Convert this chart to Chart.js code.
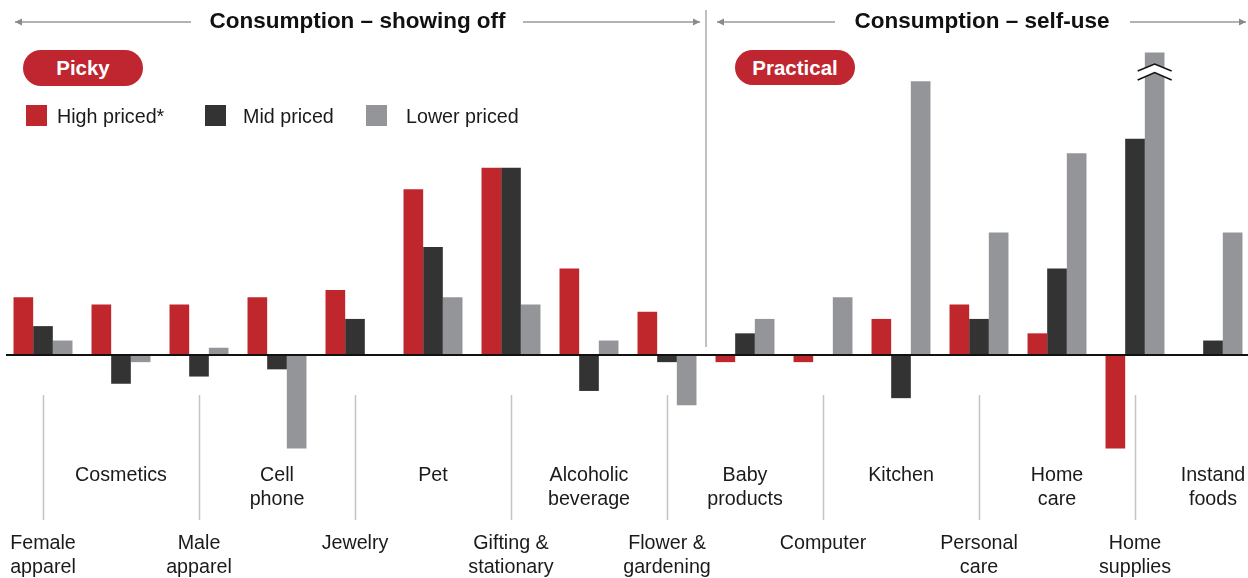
<!DOCTYPE html>
<html>
<head>
<meta charset="utf-8">
<script src="https://cdn.jsdelivr.net/npm/chart.js@4/dist/chart.umd.min.js"></script>
<style>
html,body{margin:0;padding:0;background:#fff;overflow:hidden;width:1248px;height:578px;}
#wrap{position:absolute;left:0;top:0;width:1260px;height:578px;}
#c{position:absolute;left:0;top:0;}
.t{position:absolute;font-family:"Liberation Sans",Arial,sans-serif;color:#1a1a1a;white-space:nowrap;}
.head{font-weight:bold;font-size:22.5px;line-height:26px;color:#111;transform:translateX(-50%);}
.pill{position:absolute;background:#BF262F;border-radius:18px;color:#fff;font-weight:bold;font-size:20.5px;text-align:center;font-family:"Liberation Sans",Arial,sans-serif;}
.sq{position:absolute;width:21px;height:21px;}
.leg{font-size:19.7px;line-height:22px;}
.lab{font-size:19.7px;line-height:24px;text-align:center;transform:translateX(-50%);}
</style>
</head>
<body>
<div id="wrap"><canvas id="c" width="1260" height="578"></canvas></div>
<script>
// ---- data ----
const categories = [
  ['Female','apparel'], ['Cosmetics'], ['Male','apparel'], ['Cell','phone'],
  ['Jewelry'], ['Pet'], ['Gifting &','stationary'], ['Alcoholic','beverage'],
  ['Flower &','gardening'], ['Baby','products'], ['Computer'], ['Kitchen'],
  ['Personal','care'], ['Home','care'], ['Home','supplies'], ['Instand','foods']
];
const seriesNames = ['High priced*', 'Mid priced', 'Lower priced'];
const highPriced   = [8, 7, 7, 8, 9, 23, 26, 12, 6, -1, -1, 5, 7, 3, -13, 0.1];
const midPriced    = [4, -4, -3, -2, 5, 15, 26, -5, -1, 3, 0.1, -6, 5, 12, 30, 2];
const lowerPriced  = [2, -1, 1, -13, 0.1, 8, 7, 2, -7, 5, 8, 38, 17, 28, 42, 17];
const sectionTitles = ['Consumption \u2013 showing off', 'Consumption \u2013 self-use'];
const sectionTags = ['Picky', 'Practical'];

const colors = ['#C0272D', '#333333', '#939598'];

function arrow(ctx, x1, x2, y){
  // line from x1 to tip x2
  ctx.strokeStyle = '#9a9a9a'; ctx.fillStyle = '#8a8a8a'; ctx.lineWidth = 1.5;
  ctx.beginPath(); ctx.moveTo(x1, y); ctx.lineTo(x2, y); ctx.stroke();
  const d = x2 > x1 ? 1 : -1;
  ctx.beginPath(); ctx.moveTo(x2, y); ctx.lineTo(x2 - d*7, y - 3.5); ctx.lineTo(x2 - d*7, y + 3.5); ctx.closePath(); ctx.fill();
}

const deco = {
  id: 'deco',
  afterDatasetsDraw(chart){
    const ctx = chart.ctx, xs = chart.scales.x, ys = chart.scales.y;
    const y0 = ys.getPixelForValue(0);
    ctx.save();
    // baseline
    ctx.strokeStyle = '#111'; ctx.lineWidth = 2;
    ctx.beginPath(); ctx.moveTo(6, y0); ctx.lineTo(1248, y0); ctx.stroke();
    // section divider
    const xd = (xs.getPixelForValue(8) + xs.getPixelForValue(9)) / 2;
    ctx.strokeStyle = '#ababab'; ctx.lineWidth = 1.5;
    ctx.beginPath(); ctx.moveTo(xd, 10); ctx.lineTo(xd, 347); ctx.stroke();
    // label separators
    ctx.strokeStyle = '#c4c4c4'; ctx.lineWidth = 1.5;
    ctx.beginPath();
    for (let i = 0; i < categories.length; i += 2){
      const px = Math.round(xs.getPixelForValue(i)) + 0.5;
      ctx.moveTo(px, 395); ctx.lineTo(px, 520);
    }
    ctx.stroke();
    // header arrows
    arrow(ctx, 191, 15, 22);
    arrow(ctx, 523, 700, 22);
    arrow(ctx, 835, 717, 22);
    arrow(ctx, 1130, 1246, 22);
    // axis-break mark on the truncated bar
    const bar = chart.getDatasetMeta(2).data[14];
    const cx = bar.x, h = 17;
    ctx.fillStyle = '#fff';
    ctx.beginPath();
    ctx.moveTo(cx - h, 71); ctx.lineTo(cx, 64); ctx.lineTo(cx + h, 71);
    ctx.lineTo(cx + h, 80); ctx.lineTo(cx, 72.5); ctx.lineTo(cx - h, 80); ctx.closePath(); ctx.fill();
    ctx.strokeStyle = '#111'; ctx.lineWidth = 1.4;
    ctx.beginPath(); ctx.moveTo(cx - h, 71); ctx.lineTo(cx, 64); ctx.lineTo(cx + h, 71); ctx.stroke();
    ctx.beginPath(); ctx.moveTo(cx - h, 80); ctx.lineTo(cx, 72.5); ctx.lineTo(cx + h, 80); ctx.stroke();
    ctx.restore();
  }
};

const chart = new Chart(document.getElementById('c'), {
  type: 'bar',
  data: {
    labels: categories.map(c => c.join(' ')),
    datasets: [highPriced, midPriced, lowerPriced].map((d, i) => ({
      label: seriesNames[i], data: d, backgroundColor: colors[i], borderWidth: 0,
      categoryPercentage: 0.756, barPercentage: 1.0
    }))
  },
  options: {
    responsive: false, animation: false,
    layout: { padding: { left: 4, right: 8, top: 38, bottom: 79 } },
    plugins: { legend: { display: false }, tooltip: { enabled: false } },
    scales: {
      x: { display: false },
      y: { display: false, min: -20, max: 44 }
    }
  },
  plugins: [deco]
});

// ---- HTML text overlays ----
const wrap = document.getElementById('wrap');
function add(cls, html, style){
  const d = document.createElement('div');
  d.className = cls; d.innerHTML = html; Object.assign(d.style, style); wrap.appendChild(d); return d;
}
add('t head', sectionTitles[0], { left: '357.5px', top: '8px' });
add('t head', sectionTitles[1], { left: '982px', top: '8px' });
add('pill', sectionTags[0], { left: '23px', top: '50px', width: '120px', height: '36px', lineHeight: '36px' });
add('pill', sectionTags[1], { left: '735px', top: '50px', width: '120px', height: '35px', lineHeight: '35px', borderRadius: '17.5px' });
const legX = [[26, 57], [205, 243], [366, 406]];
seriesNames.forEach((n, i) => {
  add('sq', '', { left: legX[i][0] + 'px', top: '105px', background: colors[i] });
  add('t leg', n, { left: legX[i][1] + 'px', top: '105px' });
});
const xs = chart.scales.x;
categories.forEach((c, i) => {
  const cx = xs.getPixelForValue(i);
  const firstCenter = (i % 2 === 0) ? 542 : 474;
  add('t lab', c.join('<br>'), { left: cx + 'px', top: (firstCenter - 12) + 'px' });
});
</script>
</body>
</html>
